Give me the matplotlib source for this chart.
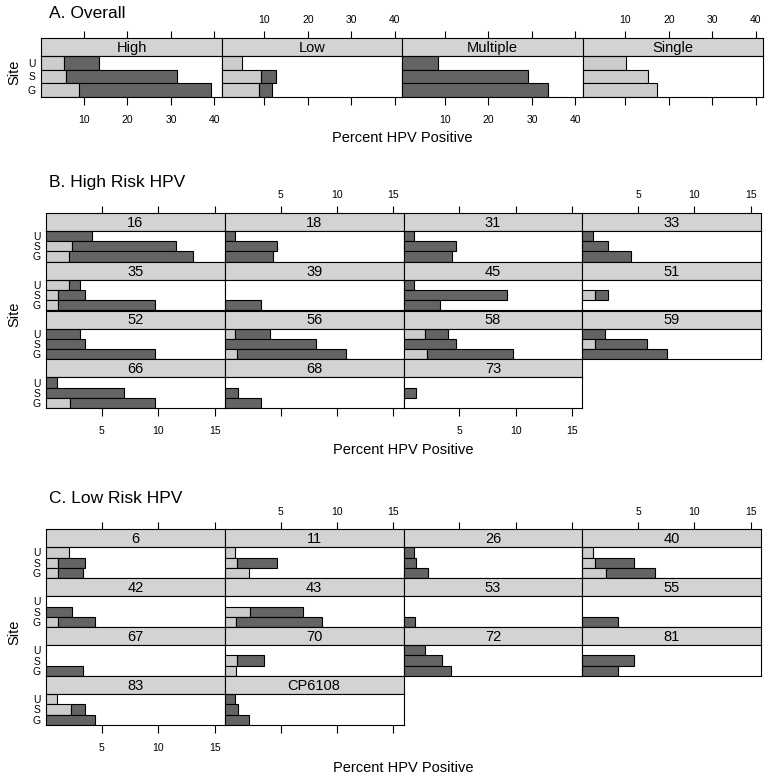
import matplotlib
matplotlib.use("Agg")
import matplotlib.pyplot as plt

plt.rcParams['font.family'] = ['Liberation Sans', 'DejaVu Sans']

# ---------------- data ----------------
sites = ["U", "S", "G"]

overall_types = ["High", "Low", "Multiple", "Single"]
overall_single = [[5.4, 5.9, 8.8], [4.95, 9.1, 8.7], [0, 0, 0], [10.2, 15.1, 17.3]]
overall_multi = [[8.1, 25.6, 30.4], [0, 3.6, 3.1], [8.3, 29.1, 33.8], [0, 0, 0]]
overall_ticks = [10, 20, 30, 40]

hr_types = ["16", "18", "31", "33", "35", "39", "45", "51",
            "52", "56", "58", "59", "66", "68", "73"]
hr_single = [[0, 2.35, 2.1], [0, 0, 0], [0, 0, 0], [0, 0, 0],
             [2.05, 1.15, 1.1], [0, 0, 0], [0, 0, 0], [0, 1.15, 0],
             [0, 0, 0], [1.0, 0, 1.1], [1.95, 0, 2.15], [0, 1.15, 0],
             [0, 0, 2.15], [0, 0, 0], [0, 0, 0]]
hr_multi = [[4.1, 9.25, 10.95], [1.0, 4.7, 4.35], [1.0, 4.7, 4.35], [1.0, 2.3, 4.4],
            [1.05, 2.4, 8.65], [0, 0, 3.25], [1.0, 9.25, 3.3], [0, 1.15, 0],
            [3.1, 3.55, 9.75], [3.1, 8.1, 9.7], [2.05, 4.7, 7.65], [2.1, 4.65, 7.6],
            [1.05, 7.0, 7.6], [0, 1.2, 3.25], [0, 1.15, 0]]

lr_types = ["6", "11", "26", "40", "42", "43", "53", "55",
            "67", "70", "72", "81", "83", "CP6108"]
lr_single = [[2.05, 1.15, 1.1], [1.0, 1.15, 2.2], [0, 0, 0], [1.0, 1.15, 2.15],
             [0, 0, 1.1], [0, 2.3, 1.05], [0, 0, 0], [0, 0, 0],
             [0, 0, 0], [0, 1.15, 1.05], [0, 0, 0], [0, 0, 0],
             [1.05, 2.3, 0], [0, 0, 0]]
lr_multi = [[0, 2.4, 2.2], [0, 3.55, 0], [1.0, 1.15, 2.2], [0, 3.45, 4.35],
            [0, 2.35, 3.3], [0, 4.7, 7.65], [0, 0, 1.1], [0, 0, 3.25],
            [0, 0, 3.3], [0, 2.35, 0], [2.0, 3.45, 4.3], [0, 4.6, 3.25],
            [0, 1.25, 4.4], [1.0, 1.2, 2.2]]
risk_ticks = [5, 10, 15]

# ---------------- style ----------------
W, H = 774, 782
fig = plt.figure(figsize=(W / 100, H / 100), dpi=100)
LIGHT = '#cccccc'
DARK = '#646464'
STRIP = '#d3d3d3'
LW = 0.8


def add_ax(x0, y0, x1, y1):
    return fig.add_axes([x0 / W, 1 - y1 / H, (x1 - x0) / W, (y1 - y0) / H])


def lattice(types, single, multi, xlim, ticks, left, colw, top, strip_h, panel_h,
            ncol, nrow, title, title_y, xlab_y, site_y):
    n = len(types)
    ypos = [3, 2, 1]
    for i in range(n):
        r, c = divmod(i, ncol)
        x0 = left + c * colw
        x1 = x0 + colw
        ys = top + r * (strip_h + panel_h)
        yp = ys + strip_h
        yb = yp + panel_h
        # strip
        sax = add_ax(x0, ys, x1, yp)
        sax.set_facecolor(STRIP)
        sax.set_xlim(*xlim)
        sax.set_ylim(0, 1)
        sax.set_yticks([])
        sax.text(0.5, 0.45, types[i], transform=sax.transAxes, ha='center',
                 va='center', fontsize=10.5)
        for s in sax.spines.values():
            s.set_linewidth(LW)
        if r == 0:
            sax.xaxis.set_ticks_position('top')
            sax.set_xticks(ticks)
            sax.tick_params(axis='x', direction='out', length=5.4, width=LW,
                            labelsize=7.5, pad=3.5, labeltop=(c % 2 == 1))
            if c % 2 == 0:
                sax.set_xticklabels([])
        else:
            sax.set_xticks([])
        # panel
        ax = add_ax(x0, yp, x1, yb)
        ax.set_xlim(*xlim)
        ax.set_ylim(0.5, 3.5)
        for s in ax.spines.values():
            s.set_linewidth(LW)
        for k in range(3):
            sv = single[i][k]
            mv = multi[i][k]
            if sv > 0:
                ax.barh(ypos[k], sv, height=1.0, left=0, color=LIGHT,
                        edgecolor='black', linewidth=LW)
            if mv > 0:
                ax.barh(ypos[k], mv, height=1.0, left=sv, color=DARK,
                        edgecolor='black', linewidth=LW)
        if c == 0:
            ax.set_yticks(ypos)
            ax.set_yticklabels(sites)
            ax.tick_params(axis='y', length=0, pad=4, labelsize=7.5)
        else:
            ax.set_yticks([])
        if r == nrow - 1:
            ax.set_xticks(ticks)
            ax.tick_params(axis='x', direction='out', length=5.4, width=LW,
                           labelsize=7.5, pad=7.5)
            if c % 2 == 1:
                ax.set_xticklabels([])
        else:
            ax.set_xticks([])
    # titles and axis labels
    fig.text(49 / W, 1 - title_y / H, title, ha='left', va='center', fontsize=12.5)
    fig.text((left + colw * 2) / W, 1 - xlab_y / H, "Percent HPV Positive",
             ha='center', va='center', fontsize=10.5)
    fig.text(14 / W, 1 - site_y / H, "Site", ha='center', va='center',
             rotation=90, fontsize=10.5)


lattice(overall_types, overall_single, overall_multi, (0.2, 41.7), overall_ticks,
        41.3, 180.5, 37.7, 18.3, 40.7, 4, 1, "A. Overall", 13.5, 138.5, 72)
lattice(hr_types, hr_single, hr_multi, (0.05, 15.9), risk_ticks,
        46, 178.75, 212.7, 18.0, 30.9, 4, 4, "B. High Risk HPV", 183, 450.5, 314)
lattice(lr_types, lr_single, lr_multi, (0.05, 15.9), risk_ticks,
        46, 178.75, 529.3, 18.0, 30.9, 4, 4, "C. Low Risk HPV", 498.5, 767.5, 632)

fig.savefig("out.png", dpi=100)
